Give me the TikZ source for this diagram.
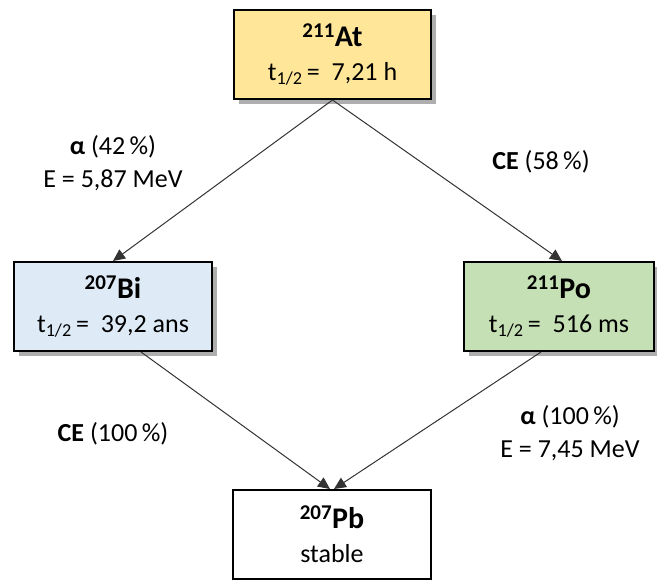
\documentclass[tikz,border=0pt]{standalone}
\usepackage{fontspec}
\setmainfont{Carlito}
\usetikzlibrary{positioning,shadows,arrows.meta}

\definecolor{atfill}{HTML}{FFE699}
\definecolor{bifill}{HTML}{DEEBF7}
\definecolor{pofill}{HTML}{C5E0B4}

\newcommand{\nucname}[2]{{\fontsize{30}{34}\selectfont\bfseries\textsuperscript{#1}#2}}

\begin{document}
\begin{tikzpicture}[
	x=1pt, y=-1pt,
	nucl/.style={rectangle, draw=black, line width=2pt, text centered, align=center, minimum height=89pt, inner sep=0pt, font=\fontsize{26}{34}\selectfont},
	shad/.style={drop shadow={shadow xshift=5pt, shadow yshift=-5pt, fill=black!45, opacity=.7}},
	lbl/.style={align=center, font=\fontsize{26}{33}\selectfont},
	arr/.style={-{Triangle[length=12pt,width=11pt]}, line width=1pt, draw=black!80}
	]
	\useasboundingbox (0,0) rectangle (657,583);

	\node (at) [nucl, shad, fill=atfill, minimum width=197pt] at (332.5,54.5) {\nucname{211}{At}\\ t\textsubscript{1/2}\,=\ \ 7,21 h};

		\node (bi) [nucl, shad, fill=bifill, minimum width=198pt, below left=161pt and 20pt of at] {\nucname{207}{Bi}\\ t\textsubscript{1/2}\,=\ \ 39,2 ans};

		\node (po) [nucl, shad, fill=pofill, minimum width=190pt, below right=161pt and 31pt of at] {\nucname{211}{Po}\\ t\textsubscript{1/2}\,=\ \ 516 ms};

		\node (pb) [nucl, fill=white, minimum width=198pt, below right=137pt and 19pt of bi] {\nucname{207}{Pb}\\ stable};

	% decay labels
	\node (alat) [lbl] at (113,163) {\textbf{α} (42\,\%)\\E = 5,87 MeV};
	\node (ceat) [lbl] at (541,162) {\textbf{CE} (58\,\%)};
	\node (cebi) [lbl] at (113,434) {\textbf{CE} (100\,\%)};
	\node (alpo) [lbl] at (570,433) {\textbf{α} (100\,\%)\\E = 7,45 MeV};

	\draw [arr] (at.south) -- (bi.north);
	\draw [arr] (at.south) -- ([xshift=3pt]po.north);
	\draw [arr] ([xshift=28pt]bi.south) -- ([xshift=-2pt]pb.north);
	\draw [arr] ([xshift=-18pt]po.south) -- ([xshift=2pt]pb.north);

	\end{tikzpicture}
\end{document}
